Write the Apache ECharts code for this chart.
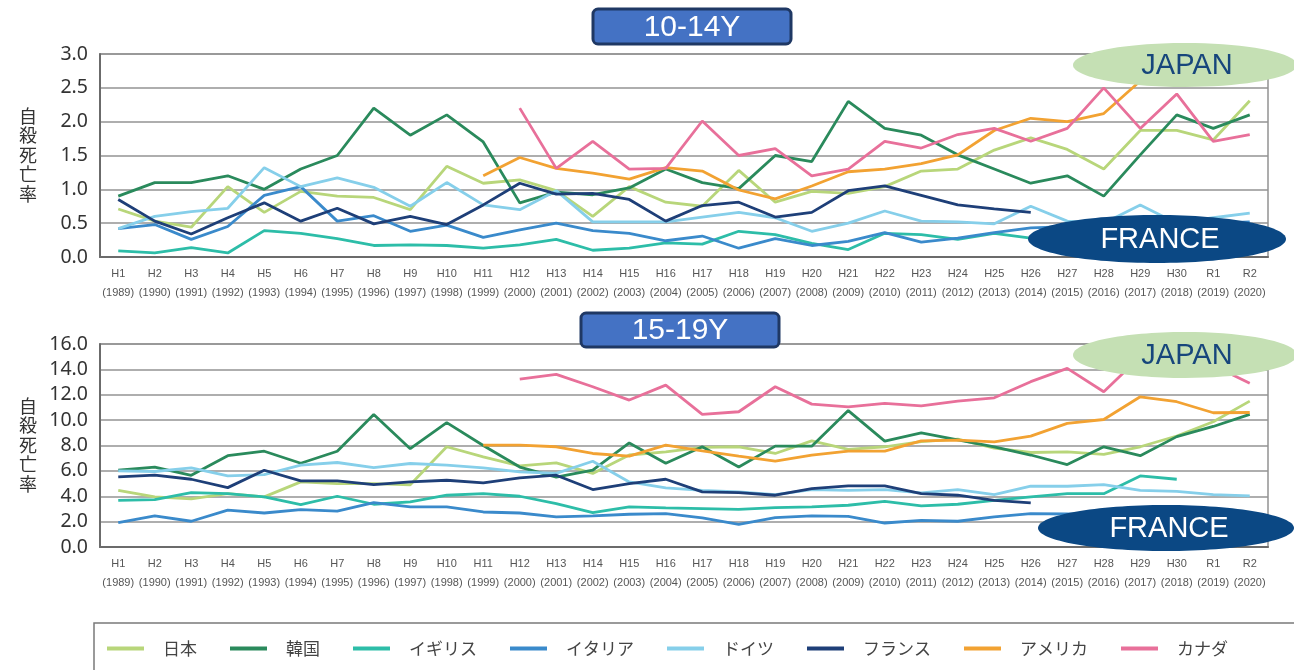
<!DOCTYPE html>
<html>
<head>
<meta charset="utf-8">
<script src="https://cdn.jsdelivr.net/npm/echarts@6/dist/echarts.min.js"></script>
<style>
  html, body { margin: 0; padding: 0; background: #fff; }
  #chart { width: 1294px; height: 670px; }
</style>
</head>
<body>
<div id="chart"></div>
<script>
// ---- categories / tick labels ----
const categories = [
  'H1\n(1989)','H2\n(1990)','H3\n(1991)','H4\n(1992)','H5\n(1993)','H6\n(1994)','H7\n(1995)','H8\n(1996)',
  'H9\n(1997)','H10\n(1998)','H11\n(1999)','H12\n(2000)','H13\n(2001)','H14\n(2002)','H15\n(2003)','H16\n(2004)',
  'H17\n(2005)','H18\n(2006)','H19\n(2007)','H20\n(2008)','H21\n(2009)','H22\n(2010)','H23\n(2011)','H24\n(2012)',
  'H25\n(2013)','H26\n(2014)','H27\n(2015)','H28\n(2016)','H29\n(2017)','H30\n(2018)','R1\n(2019)','R2\n(2020)'
];
const seriesNames = ['日本','韓国','イギリス','イタリア','ドイツ','フランス','アメリカ','カナダ'];
const seriesColors = ['#B8D67A','#2A8A5C','#2DBDA8','#3A8ACB','#86CFEA','#1E3F78','#F2A232','#E8709A'];
const axisName = '自殺死亡率';
const title1 = '10-14Y';
const title2 = '15-19Y';

// ---- 10-14 years ----
const japan10   = [0.71,0.53,0.44,1.04,0.66,0.97,0.90,0.88,0.70,1.34,1.09,1.14,0.98,0.60,1.04,0.81,0.75,1.28,0.81,0.97,0.94,1.04,1.27,1.30,1.58,1.76,1.59,1.30,1.87,1.87,1.73,2.31];
const korea10   = [0.90,1.10,1.10,1.20,1.00,1.30,1.50,2.20,1.80,2.10,1.70,0.80,0.96,0.92,1.02,1.30,1.10,1.01,1.50,1.41,2.30,1.90,1.80,1.51,1.30,1.09,1.20,0.90,1.51,2.10,1.90,2.10];
const uk10      = [0.09,0.06,0.14,0.06,0.39,0.35,0.27,0.17,0.18,0.17,0.13,0.18,0.26,0.10,0.13,0.21,0.19,0.38,0.33,0.20,0.11,0.35,0.33,0.26,0.35,0.28,0.30,0.33,0.35,0.30,0.32,0.35];
const italy10   = [0.42,0.48,0.26,0.45,0.91,1.04,0.53,0.61,0.38,0.47,0.29,0.40,0.50,0.39,0.35,0.24,0.31,0.13,0.27,0.17,0.23,0.36,0.22,0.28,0.36,0.43,0.45,0.47,0.50,0.47,0.50,0.52];
const germany10 = [0.42,0.60,0.67,0.72,1.32,1.04,1.17,1.03,0.75,1.10,0.77,0.70,0.98,0.52,0.52,0.52,0.59,0.66,0.58,0.38,0.50,0.68,0.53,0.52,0.49,0.75,0.53,0.50,0.77,0.50,0.58,0.65];
const france10  = [0.85,0.53,0.34,0.58,0.80,0.53,0.72,0.49,0.60,0.48,0.77,1.09,0.93,0.94,0.85,0.53,0.76,0.81,0.59,0.66,0.98,1.05,0.91,0.77,0.71,0.66,null,null,null,null,null,null];
const usa10     = [null,null,null,null,null,null,null,null,null,null,1.20,1.47,1.31,1.24,1.15,1.32,1.27,0.99,0.86,1.05,1.26,1.30,1.38,1.51,1.87,2.05,2.00,2.12,2.60,2.80,2.70,2.80];
const canada10  = [null,null,null,null,null,null,null,null,null,null,null,2.20,1.31,1.71,1.30,1.31,2.01,1.50,1.60,1.20,1.30,1.71,1.61,1.81,1.90,1.71,1.90,2.50,1.90,2.41,1.71,1.81];

// ---- 15-19 years ----
const japan15   = [4.47,3.95,3.80,4.20,3.95,5.13,5.00,5.00,4.90,7.90,7.10,6.40,6.63,5.80,7.25,7.50,7.85,7.90,7.37,8.37,7.70,7.90,8.30,8.50,7.80,7.45,7.50,7.30,7.90,8.75,9.87,11.50];
const korea15   = [6.05,6.30,5.65,7.20,7.55,6.60,7.55,10.45,7.75,9.80,8.00,6.30,5.50,6.05,8.20,6.60,7.90,6.30,7.95,7.95,10.75,8.35,9.00,8.45,7.90,7.25,6.50,7.90,7.20,8.70,9.50,10.45];
const uk15      = [3.68,3.74,4.29,4.20,3.95,3.34,4.00,3.37,3.55,4.08,4.20,4.00,3.42,2.71,3.16,3.08,3.03,2.97,3.10,3.16,3.29,3.60,3.24,3.37,3.68,3.95,4.20,4.20,5.60,5.34,null,null];
const italy15   = [1.92,2.45,2.03,2.90,2.68,2.95,2.82,3.50,3.16,3.16,2.76,2.68,2.37,2.45,2.58,2.63,2.29,1.79,2.32,2.45,2.42,1.89,2.10,2.03,2.37,2.63,2.60,2.55,2.60,2.55,2.45,2.40];
const germany15 = [6.00,5.95,6.24,5.60,5.70,6.45,6.66,6.26,6.58,6.45,6.24,5.92,5.80,6.76,5.13,4.66,4.47,4.34,4.13,4.53,4.47,4.53,4.26,4.53,4.13,4.79,4.79,4.92,4.47,4.39,4.13,4.03];
const france15  = [5.53,5.66,5.34,4.68,6.05,5.21,5.21,4.92,5.13,5.26,5.05,5.45,5.66,4.53,5.00,5.34,4.34,4.29,4.08,4.60,4.82,4.82,4.21,4.08,3.68,3.47,null,null,null,null,null,null];
const usa15     = [null,null,null,null,null,null,null,null,null,null,8.03,8.03,7.90,7.37,7.16,8.03,7.58,7.16,6.76,7.24,7.55,7.56,8.37,8.42,8.29,8.74,9.74,10.05,11.84,11.45,10.58,10.60];
const canada15  = [null,null,null,null,null,null,null,null,null,null,null,13.24,13.60,12.63,11.58,12.76,10.45,10.66,12.63,11.26,11.05,11.32,11.13,11.50,11.76,13.03,14.08,12.24,15.00,14.80,14.30,12.90];

const data10 = [japan10, korea10, uk10, italy10, germany10, france10, usa10, canada10];
const data15 = [japan15, korea15, uk15, italy15, germany15, france15, usa15, canada15];

const chart = echarts.init(document.getElementById('chart'), null, { renderer: 'canvas' });

function xAxis(gridIndex) {
  return {
    type: 'category', gridIndex, data: categories, boundaryGap: true,
    axisLine: { lineStyle: { color: '#6b6b6b', width: 2 } },
    axisTick: { show: false },
    axisLabel: { interval: 0, margin: 7, fontSize: 11, lineHeight: 19, color: '#555',
      fontFamily: 'Liberation Sans, Arial, sans-serif' },
    splitLine: { show: false }
  };
}
function yAxis(gridIndex, max, interval) {
  return {
    type: 'value', gridIndex, min: 0, max, interval,
    axisLine: { show: true, lineStyle: { color: '#6b6b6b', width: 2 } },
    axisTick: { show: false },
    axisLabel: { margin: 12, fontSize: 19.5, color: '#333', fontFamily: 'Noto Sans, sans-serif',
      formatter: v => v.toFixed(1) },
    splitLine: { lineStyle: { color: '#939393', width: 1.6 } }
  };
}

const series = [];
seriesNames.forEach((name, i) => {
  series.push({ name, type: 'line', xAxisIndex: 0, yAxisIndex: 0, data: data10[i],
    showSymbol: false, symbol: 'none', lineStyle: { width: 2.8, color: seriesColors[i] },
    itemStyle: { color: seriesColors[i] }, connectNulls: false, z: 2 + (i === 5 ? 1 : 0) });
});
seriesNames.forEach((name, i) => {
  series.push({ name, type: 'line', xAxisIndex: 1, yAxisIndex: 1, data: data15[i],
    showSymbol: false, symbol: 'none', lineStyle: { width: 2.8, color: seriesColors[i] },
    itemStyle: { color: seriesColors[i] }, connectNulls: false, z: 2 + (i === 5 ? 1 : 0) });
});

function titleBox(x, y, w, h, text) {
  return {
    type: 'group', z: 100,
    children: [
      { type: 'rect', shape: { x, y, width: w, height: h, r: 5 },
        style: { fill: '#4472C4', stroke: '#1F3864', lineWidth: 3 }, z: 100 },
      { type: 'text', x: x + w / 2, y: y + h / 2 + 1, z: 101,
        style: { text, fill: '#fff', font: '30px "Liberation Sans", Arial, sans-serif',
          align: 'center', verticalAlign: 'middle' } }
    ]
  };
}
function ellipse(cx, cy, rx, ry, fill, text, color, tx) {
  return {
    type: 'group', z: 100,
    children: [
      { type: 'ellipse', shape: { cx, cy, rx, ry }, style: { fill }, z: 100 },
      { type: 'text', x: tx, y: cy + 1, z: 101,
        style: { text, fill: color, font: '29px "Liberation Sans", Arial, sans-serif',
          align: 'center', verticalAlign: 'middle' } }
    ]
  };
}
function yName(cy) {
  return { type: 'text', x: 28, y: cy, z: 100,
    style: { text: axisName.split('').join('\n'), fill: '#333',
      font: '18px "Noto Sans CJK JP", sans-serif', lineHeight: 19.5,
      align: 'center', verticalAlign: 'middle' } };
}

const option = {
  animation: false,
  backgroundColor: '#fff',
  color: seriesColors,
  grid: [
    { left: 100, right: 26, top: 54, height: 203, show: true, borderColor: '#939393', borderWidth: 1.5, backgroundColor: 'transparent' },
    { left: 100, right: 26, top: 344, height: 203, show: true, borderColor: '#939393', borderWidth: 1.5, backgroundColor: 'transparent' }
  ],
  xAxis: [xAxis(0), xAxis(1)],
  yAxis: [yAxis(0, 3, 0.5), yAxis(1, 16, 2)],
  legend: {
    data: seriesNames, top: 635, left: 102,
    icon: 'rect', itemWidth: 37, itemHeight: 4, itemGap: 33,
    textStyle: { fontSize: 17, color: '#444', fontFamily: '"Noto Sans CJK JP", sans-serif', padding: [0, 0, 0, 14] }
  },
  series,
  graphic: [
    { type: 'rect', z: 0, shape: { x: 94, y: 623, width: 1210, height: 70 },
      style: { fill: 'none', stroke: '#7a7a7a', lineWidth: 1.5 } },
    titleBox(593, 9, 198, 35, title1),
    titleBox(581, 313, 198, 34, title2),
    ellipse(1185, 65, 112, 22, '#C5E0B4', 'JAPAN', '#17467C', 1187),
    ellipse(1157, 239, 129, 24, '#0B4884', 'FRANCE', '#ffffff', 1160),
    ellipse(1185, 355, 112, 23, '#C5E0B4', 'JAPAN', '#17467C', 1187),
    ellipse(1166, 528, 128, 23, '#0B4884', 'FRANCE', '#ffffff', 1169),
    yName(155),
    yName(445)
  ]
};
chart.setOption(option);
</script>
</body>
</html>
